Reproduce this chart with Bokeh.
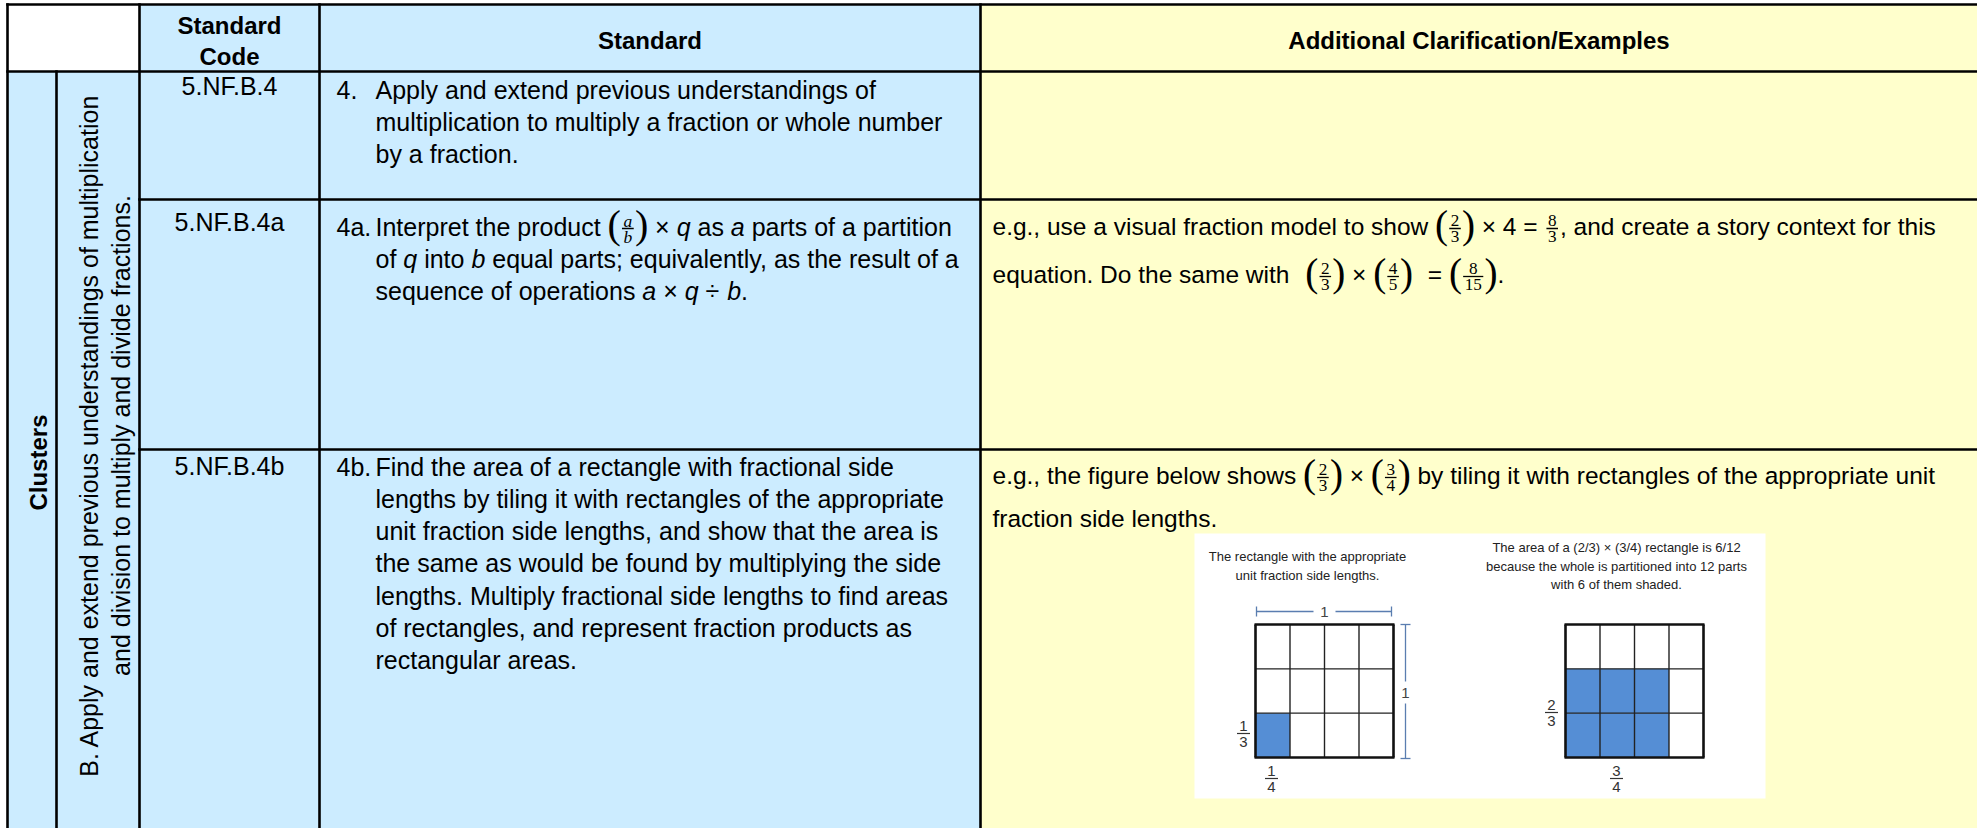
import math
from bokeh.plotting import figure
from bokeh.models import Range1d, ColumnDataSource
from bokeh.core.properties import value
from bokeh.embed import file_html
from bokeh.resources import INLINE

# ---------------- data ----------------
header_labels = ["Standard", "Code"]
header_standard = "Standard"
header_examples = "Additional Clarification/Examples"
cluster_heading = "Clusters"
cluster_lines = ["B. Apply and extend previous understandings of multiplication",
                 "and division to multiply and divide fractions."]
standard_codes = ["5.NF.B.4", "5.NF.B.4a", "5.NF.B.4b"]
standard_numbers = ["4.", "4a.", "4b."]
standard_4 = [[("t", "Apply and extend previous understandings of")],
              [("t", "multiplication to multiply a fraction or whole number")],
              [("t", "by a fraction.")]]
standard_4a = [[("t", "Interpret the product "), ("f", "a", "b", True, True), ("t", " × "), ("i", "q"),
                ("t", " as "), ("i", "a"), ("t", " parts of a partition")],
               [("t", "of "), ("i", "q"), ("t", " into "), ("i", "b"),
                ("t", " equal parts; equivalently, as the result of a")],
               [("t", "sequence of operations "), ("i", "a"), ("t", " × "), ("i", "q"), ("t", " ÷ "),
                ("i", "b"), ("t", ".")]]
standard_4b = [[("t", "Find the area of a rectangle with fractional side")],
               [("t", "lengths by tiling it with rectangles of the appropriate")],
               [("t", "unit fraction side lengths, and show that the area is")],
               [("t", "the same as would be found by multiplying the side")],
               [("t", "lengths. Multiply fractional side lengths to find areas")],
               [("t", "of rectangles, and represent fraction products as")],
               [("t", "rectangular areas.")]]
example_4a = [[("t", "e.g., use a visual fraction model to show "), ("f", "2", "3", False, True),
               ("t", " × 4 = "), ("f", "8", "3", False, False), ("t", ", and create a story context for this")],
              [("t", "equation. Do the same with"), ("g", 16), ("f", "2", "3", False, True), ("t", " × "),
               ("f", "4", "5", False, True), ("g", 8), ("t", " = "), ("f", "8", "15", False, True), ("t", ".")]]
example_4b = [[("t", "e.g., the figure below shows "), ("f", "2", "3", False, True), ("t", " × "),
               ("f", "3", "4", False, True), ("t", " by tiling it with rectangles of the appropriate unit")],
              [("t", "fraction side lengths.")]]
fig_left_caption = ["The rectangle with the appropriate", "unit fraction side lengths."]
fig_right_caption = ["The area of a (2/3) × (3/4) rectangle is 6/12",
                     "because the whole is partitioned into 12 parts",
                     "with 6 of them shaded."]
grid_rows, grid_cols = 3, 4
left_shaded_cols, left_shaded_rows = 1, 1
right_shaded_cols, right_shaded_rows = 3, 2
left_side_labels = [("1", "3"), ("1", "4")]
right_side_labels = [("2", "3"), ("3", "4")]
whole_label = "1"

# ---------------- layout helpers ----------------
PW, PH = 1977, 828
SANS = "Liberation Sans"
SERIF = "Liberation Serif"
BLUE = "#CCECFF"
YELLOW = "#FFFFCC"

CW = {' ': 278, '.': 278, ',': 278, ';': 278, ':': 278, '(': 333, ')': 333, '/': 278,
      '=': 584, '×': 584, '÷': 584, '-': 333}
for ch in "0123456789":
    CW[ch] = 556
CW.update(dict(A=667, B=667, C=722, D=722, E=667, F=611, G=778, H=722, I=278, J=500, K=667, L=556,
               M=833, N=722, O=778, P=667, Q=778, R=722, S=667, T=611, U=722, V=667, W=944, X=667,
               Y=667, Z=611))
CW.update(dict(a=556, b=556, c=500, d=556, e=556, f=278, g=556, h=556, i=222, j=222, k=500, l=222,
               m=833, n=556, o=556, p=556, q=556, r=333, s=500, t=278, u=556, v=500, w=722, x=500,
               y=500, z=500))


def tw(s, size):
    return sum(CW.get(c, 556) for c in s) / 1000.0 * size


groups = {}
segs = {}
quads = {}


def add_text(x, y, s, size, font=SANS, style="normal", align="left", color="#000000", angle=0.0):
    # y is the vertical middle of the text line
    key = (size, font, style, align, color, angle)
    g = groups.setdefault(key, dict(x=[], y=[], text=[]))
    g["x"].append(x)
    g["y"].append(y)
    g["text"].append(s)


def add_seg(x0, y0, x1, y1, color="#000000", width=2.5):
    g = segs.setdefault((color, width), dict(x0=[], y0=[], x1=[], y1=[]))
    g["x0"].append(x0); g["y0"].append(y0); g["x1"].append(x1); g["y1"].append(y1)


def add_quad(l, r, t, b, color):
    g = quads.setdefault(color, dict(left=[], right=[], top=[], bottom=[]))
    g["left"].append(l); g["right"].append(r); g["top"].append(t); g["bottom"].append(b)


def draw_frac(x, mid, num, den, italic, parens, size):
    fs = size * 0.7
    ps = size * 1.6
    axis = mid + 2
    style = "italic" if italic else "normal"
    if parens:
        add_text(x, axis - 0.1 * ps, "(", ps, font=SERIF)
        x += 0.31 * ps
    bw = max(len(num), len(den)) * 0.5 * fs + 7
    cx = x + bw / 2
    gap = 0.33 * fs + 2.2
    add_text(cx, axis - gap, num, fs, font=SERIF, style=style, align="center")
    add_text(cx, axis + gap + 0.5, den, fs, font=SERIF, style=style, align="center")
    add_seg(x + 2, axis, x + bw - 2, axis, "#000000", 1.3)
    x += bw
    if parens:
        add_text(x - 0.02 * ps, axis - 0.1 * ps, ")", ps, font=SERIF)
        x += 0.31 * ps
    return x


def rich_line(x, mid, parts, size):
    for part in parts:
        kind = part[0]
        if kind in ("t", "i"):
            s = part[1]
            lead = len(s) - len(s.lstrip(" "))
            trail = len(s) - len(s.rstrip(" "))
            core = s.strip(" ")
            x += lead * tw(" ", size)
            if core:
                add_text(x, mid, core, size, style="italic" if kind == "i" else "normal")
                x += tw(core, size)
            x += trail * tw(" ", size)
        elif kind == "g":
            x += part[1]
        elif kind == "f":
            x = draw_frac(x, mid, part[1], part[2], part[3], part[4], size)
    return x


# ---------------- table geometry (page pixel coordinates) ----------------
X_L, X_C2, X_C3, X_C4, X_C5, X_R = 7, 56, 139, 319, 980, 1977
Y_T, Y_H, Y_R1, Y_R2, Y_B = 4, 71, 199, 449, 828
FS = 25      # standard column font
FE = 24.5    # examples column font
FH = 24      # bold header font
STEP = 32.3

# cell fills
add_quad(X_L, X_C3, Y_T, Y_H, "#FFFFFF")
add_quad(X_C3, X_C5, Y_T, Y_H, BLUE)
add_quad(X_C5, X_R, Y_T, Y_B, YELLOW)
add_quad(X_L, X_C5, Y_H, Y_B, BLUE)

# headers
cx_code = (X_C3 + X_C4) / 2
add_text(cx_code, 25, header_labels[0], FH, style="bold", align="center")
add_text(cx_code, 56, header_labels[1], FH, style="bold", align="center")
add_text((X_C4 + X_C5) / 2, 40, header_standard, FH, style="bold", align="center")
add_text((X_C5 + X_R) / 2, 40, header_examples, FH, style="bold", align="center")

# cluster column (rotated)
add_text(38, 462, cluster_heading, FH, style="bold", align="center", angle=math.pi / 2)
add_text(88, 435, cluster_lines[0], FS, align="center", angle=math.pi / 2)
add_text(120, 435, cluster_lines[1], FS, align="center", angle=math.pi / 2)

# codes
code_mids = [85, 221, 465]
for code, m in zip(standard_codes, code_mids):
    add_text(cx_code, m, code, FS, align="center")

# standards
NUM_X, TXT_X = 336, 375
std_mids = [89, 226, 466]
for num, lines, m in zip(standard_numbers, [standard_4, standard_4a, standard_4b], std_mids):
    add_text(NUM_X, m, num, FS)
    for k, parts in enumerate(lines):
        rich_line(TXT_X, m + k * STEP, parts, FS)

# examples
EX_X = 992
for lines, mids in [(example_4a, [226, 274]), (example_4b, [475, 518])]:
    for parts, m in zip(lines, mids):
        rich_line(EX_X, m, parts, FE)

# ---------------- example figure ----------------
add_quad(1194, 1765, 533, 798, "#FFFFFF")
GY0, GH, GW = 624, 133, 138
grids = [(1255, left_shaded_cols, left_shaded_rows), (1565, right_shaded_cols, right_shaded_rows)]
FIG_BLUE = "#558ED5"
for gx0, sc, sr in grids:
    cw, rh = GW / grid_cols, GH / grid_rows
    for c in range(sc):
        for r in range(grid_rows - sr, grid_rows):
            add_quad(gx0 + c * cw, gx0 + (c + 1) * cw, GY0 + r * rh, GY0 + (r + 1) * rh, FIG_BLUE)
for gx0, sc, sr in grids:
    cw, rh = GW / grid_cols, GH / grid_rows
    for c in range(1, grid_cols):
        add_seg(gx0 + c * cw, GY0, gx0 + c * cw, GY0 + GH, "#222222", 1.4)
    for r in range(1, grid_rows):
        add_seg(gx0, GY0 + r * rh, gx0 + GW, GY0 + r * rh, "#222222", 1.4)
    add_seg(gx0 - 1, GY0, gx0 + GW + 1, GY0, "#111111", 2.6)
    add_seg(gx0 - 1, GY0 + GH, gx0 + GW + 1, GY0 + GH, "#111111", 2.6)
    add_seg(gx0, GY0, gx0, GY0 + GH, "#111111", 2.6)
    add_seg(gx0 + GW, GY0, gx0 + GW, GY0 + GH, "#111111", 2.6)

BR = "#5A7DB0"
add_seg(1256, 611, 1313, 611, BR, 1.3)
add_seg(1335, 611, 1391, 611, BR, 1.3)
add_seg(1256, 606, 1256, 616, BR, 1.3)
add_seg(1391, 606, 1391, 616, BR, 1.3)
add_text(1324, 611, whole_label, 15, align="center", color="#444444")
add_seg(1405, 624, 1405, 681, BR, 1.3)
add_seg(1405, 703, 1405, 758, BR, 1.3)
add_seg(1400, 624, 1410, 624, BR, 1.3)
add_seg(1400, 758, 1410, 758, BR, 1.3)
add_text(1405, 692, whole_label, 15, align="center", color="#444444")


def small_frac(cx, cy, num, den):
    add_text(cx, cy - 7.5, num, 15, align="center", color="#333333")
    add_text(cx, cy + 8.5, den, 15, align="center", color="#333333")
    add_seg(cx - 6.5, cy, cx + 6.5, cy, "#333333", 1.2)


small_frac(1243, 733, *left_side_labels[0])
small_frac(1271, 778, *left_side_labels[1])
small_frac(1551, 712, *right_side_labels[0])
small_frac(1616, 778, *right_side_labels[1])

for k, s in enumerate(fig_left_caption):
    add_text(1307, 556 + k * 18.5, s, 13, align="center", color="#222222")
for k, s in enumerate(fig_right_caption):
    add_text(1616, 547 + k * 18.5, s, 13, align="center", color="#222222")

# table rules
for x, y0 in [(X_L, Y_T), (X_C2, Y_H), (X_C3, Y_T), (X_C4, Y_T), (X_C5, Y_T)]:
    add_seg(x, y0 - 1.3, x, Y_B + 2, "#000000", 2.6)
for y, x0 in [(Y_T, X_L), (Y_H, X_L), (Y_R1, X_C3), (Y_R2, X_C3)]:
    add_seg(x0 - 1.3, y, X_R + 2, y, "#000000", 2.6)

# ---------------- figure ----------------
p = figure(width=PW, height=PH, x_range=Range1d(0, PW), y_range=Range1d(PH, 0),
           output_backend="svg", toolbar_location=None, x_axis_type=None, y_axis_type=None,
           min_border=0, outline_line_color=None)
p.grid.visible = False
p.background_fill_color = "#FFFFFF"
p.border_fill_color = "#FFFFFF"

for color in [BLUE, YELLOW, "#FFFFFF", FIG_BLUE]:
    if color in quads:
        p.quad(source=ColumnDataSource(quads[color]), left="left", right="right", top="top",
               bottom="bottom", fill_color=color, line_color=None)
for (color, width), g in segs.items():
    p.segment(source=ColumnDataSource(g), x0="x0", y0="y0", x1="x1", y1="y1",
              line_color=color, line_width=width)
for (size, font, style, align, color, angle), g in groups.items():
    p.text(source=ColumnDataSource(g), x="x", y="y", text="text",
           text_font=value(font), text_font_size=value(f"{size:.2f}px"),
           text_font_style=value(style), text_align=value(align), text_baseline=value("middle"),
           text_color=value(color), angle=angle)

open("out.html", "w").write(file_html(p, INLINE))
